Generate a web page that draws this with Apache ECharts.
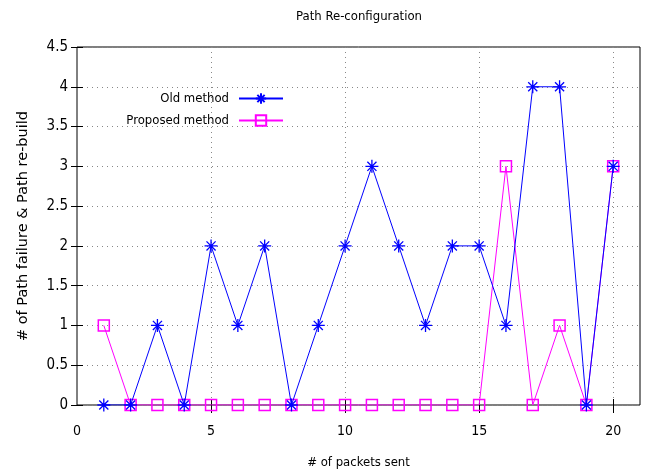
<!DOCTYPE html>
<html>
<head>
<meta charset="utf-8">
<script src="https://cdn.jsdelivr.net/npm/echarts@6/dist/echarts.min.js"></script>
<style>
  html, body { margin: 0; padding: 0; background: #fff; }
  #chart { width: 648px; height: 475px; }
</style>
</head>
<body>
<div id="chart"></div>
<script>
// packets sent (x) and counts
const packets = [1, 2, 3, 4, 5, 6, 7, 8, 9, 10, 11, 12, 13, 14, 15, 16, 17, 18, 19, 20];
const oldMethod = [0, 0, 1, 0, 2, 1, 2, 0, 1, 2, 3, 2, 1, 2, 2, 1, 4, 4, 0, 3];
const proposedMethod = [1, 0, 0, 0, 0, 0, 0, 0, 0, 0, 0, 0, 0, 0, 0, 3, 0, 1, 0, 3];
const xTickLabels = [0, 5, 10, 15, 20];
const xInnerTicks = [5, 10, 15, 20];

const narrow = "'Liberation Sans Narrow', 'DejaVu Sans Condensed', sans-serif";
const BLUE = "#0000ff";
const MAGENTA = "#ff00ff";
// gnuplot style asterisk (+ and x on top of each other)
const STAR = "path://M0,6L12,6M6,0L6,12M1.8,1.8L10.2,10.2M10.2,1.8L1.8,10.2";

const chart = echarts.init(document.getElementById("chart"));

const pairs = (ys) => packets.map((x, i) => [x, ys[i]]);

const legendBase = {
  right: 364,
  padding: 0,
  align: "right",
  itemWidth: 44,
  itemHeight: 13,
  textStyle: { fontFamily: narrow, fontSize: 13, color: "#000", padding: [0, 5, 0, 0] }
};

chart.setOption({
  animation: false,
  title: {
    text: "Path Re-configuration",
    left: 354,
    top: 5,
    textAlign: "center",
    textStyle: { fontFamily: narrow, fontSize: 13, fontWeight: "normal", color: "#000" }
  },
  legend: [
    Object.assign({ top: 92, data: ["Old method"] }, legendBase),
    Object.assign({ top: 114, data: ["Proposed method"] }, legendBase)
  ],
  grid: {
    left: 77, right: 8, top: 47, bottom: 70,
    outerBoundsMode: "none",
    show: true, borderColor: "#000", borderWidth: 1
  },
  xAxis: [
    {
      type: "value", min: 0, max: 21, interval: 5,
      name: "# of packets sent", nameLocation: "middle", nameGap: 51,
      nameTextStyle: { fontFamily: narrow, fontSize: 13, color: "#000" },
      axisLine: { show: false },
      axisTick: { inside: true, length: 6, customValues: xInnerTicks, lineStyle: { color: "#000" } },
      axisLabel: { customValues: xTickLabels, margin: 19, fontFamily: narrow, fontSize: 14, color: "#000" },
      splitLine: { show: true, lineStyle: { type: [1, 4], color: "#888" } }
    },
    {
      type: "value", position: "top", min: 0, max: 21, interval: 5,
      axisLine: { show: false },
      axisTick: { inside: true, length: 8, customValues: xInnerTicks, lineStyle: { color: "#000" } },
      axisLabel: { show: false },
      splitLine: { show: false }
    }
  ],
  yAxis: [
    {
      type: "value", min: 0, max: 4.5, interval: 0.5,
      name: "# of Path failure & Path re-build", nameLocation: "middle", nameGap: 46,
      nameTextStyle: { fontFamily: "'DejaVu Sans', sans-serif", fontSize: 14.5, color: "#000" },
      axisLine: { show: false },
      axisTick: { inside: true, length: 6, lineStyle: { color: "#000" } },
      axisLabel: { margin: 9, fontFamily: narrow, fontSize: 15, color: "#000" },
      splitLine: { show: true, lineStyle: { type: [1, 4], color: "#888" } }
    },
    {
      type: "value", position: "right", min: 0, max: 4.5, interval: 0.5,
      axisLine: { show: false },
      axisTick: { inside: true, length: 6, lineStyle: { color: "#000" } },
      axisLabel: { show: false },
      splitLine: { show: false }
    }
  ],
  series: [
    {
      name: "Old method",
      type: "line",
      z: 3,
      data: pairs(oldMethod),
      symbol: STAR,
      symbolSize: 13,
      lineStyle: { color: BLUE, width: 1 },
      itemStyle: { color: BLUE, borderColor: BLUE, borderWidth: 1.3 }
    },
    {
      name: "Proposed method",
      type: "line",
      z: 2,
      data: pairs(proposedMethod),
      symbol: "rect",
      symbolSize: 11,
      lineStyle: { color: MAGENTA, width: 1 },
      itemStyle: { color: "rgba(0,0,0,0)", borderColor: MAGENTA, borderWidth: 1.5 }
    }
  ]
});
</script>
</body>
</html>
